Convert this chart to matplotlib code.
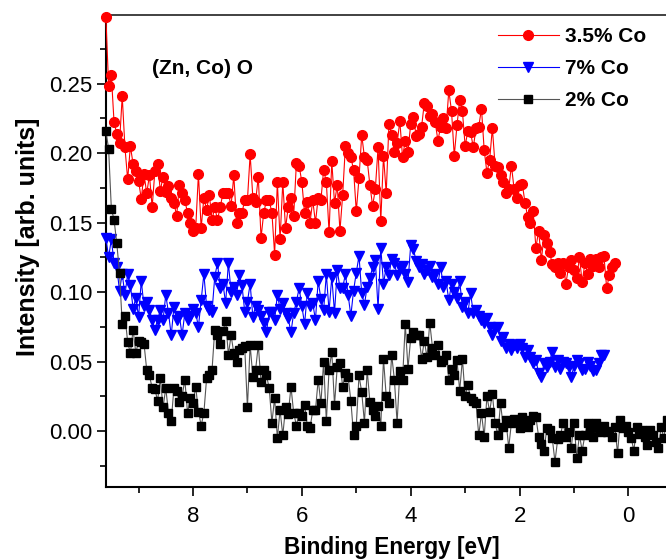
import numpy as np
import matplotlib
matplotlib.use("Agg")
import matplotlib.pyplot as plt
from matplotlib.ticker import MultipleLocator

plt.rcParams['font.family'] = ['Liberation Sans', 'DejaVu Sans']

# Binding-energy grid: spectra sampled every 0.05 eV starting at 9.60 eV
energy_start = 9.60
energy_step = 0.05

# 3.5% Co (red circles), 9.60 -> 0.25 eV
red_intensity = [
    0.298, 0.248, 0.256, 0.222, 0.214, 0.207, 0.241, 0.204, 0.181, 0.205,
    0.192, 0.187, 0.180, 0.167, 0.185, 0.171, 0.184, 0.161, 0.187, 0.192,
    0.173, 0.183, 0.172, 0.176, 0.168, 0.164, 0.155, 0.177, 0.171, 0.166,
    0.157, 0.150, 0.144, 0.146, 0.185, 0.146, 0.168, 0.159, 0.170, 0.152,
    0.161, 0.152, 0.161, 0.171, 0.171, 0.171, 0.162, 0.184, 0.150, 0.157,
    0.157, 0.166, 0.166, 0.199, 0.168, 0.165, 0.183, 0.139, 0.157, 0.166,
    0.166, 0.157, 0.127, 0.179, 0.138, 0.179, 0.146, 0.161, 0.168, 0.155,
    0.193, 0.191, 0.179, 0.157, 0.165, 0.150, 0.166, 0.150, 0.168, 0.166,
    0.188, 0.179, 0.143, 0.194, 0.164, 0.177, 0.144, 0.170, 0.205, 0.200,
    0.197, 0.188, 0.158, 0.182, 0.213, 0.197, 0.195, 0.177, 0.162, 0.174,
    0.204, 0.151, 0.198, 0.171, 0.221, 0.213, 0.201, 0.207, 0.223, 0.197,
    0.209, 0.201, 0.221, 0.226, 0.212, 0.214, 0.219, 0.236, 0.234, 0.227,
    0.228, 0.222, 0.209, 0.219, 0.225, 0.218, 0.245, 0.230, 0.198, 0.220,
    0.238, 0.230, 0.205, 0.216, 0.215, 0.204, 0.218, 0.219, 0.232, 0.202,
    0.186, 0.195, 0.218, 0.191, 0.190, 0.184, 0.179, 0.171, 0.174, 0.191,
    0.174, 0.168, 0.177, 0.178, 0.164, 0.154, 0.150, 0.158, 0.132, 0.144,
    0.123, 0.141, 0.135, 0.129, 0.120, 0.118, 0.121, 0.114, 0.121, 0.106,
    0.118, 0.123, 0.116, 0.110, 0.125, 0.107, 0.121, 0.113, 0.124, 0.119,
    0.124, 0.118, 0.125, 0.126, 0.103, 0.112, 0.118, 0.121,
]

# 7% Co (blue down-triangles), 9.60 -> 0.45 eV
blue_intensity = [
    0.139, 0.125, 0.138, 0.121, 0.118, 0.101, 0.113, 0.098, 0.113, 0.105,
    0.088, 0.096, 0.082, 0.108, 0.090, 0.093, 0.087, 0.080, 0.073, 0.080,
    0.087, 0.080, 0.098, 0.085, 0.069, 0.089, 0.080, 0.083, 0.069, 0.085,
    0.080, 0.083, 0.088, 0.085, 0.075, 0.094, 0.113, 0.090, 0.087, 0.086,
    0.111, 0.121, 0.103, 0.106, 0.092, 0.121, 0.100, 0.104, 0.098, 0.112,
    0.105, 0.086, 0.093, 0.106, 0.082, 0.090, 0.087, 0.083, 0.078, 0.071,
    0.086, 0.086, 0.080, 0.098, 0.088, 0.092, 0.085, 0.081, 0.071, 0.085,
    0.093, 0.103, 0.090, 0.077, 0.099, 0.090, 0.092, 0.080, 0.108, 0.095,
    0.087, 0.113, 0.086, 0.111, 0.085, 0.116, 0.103, 0.103, 0.113, 0.098,
    0.083, 0.101, 0.114, 0.126, 0.099, 0.091, 0.104, 0.110, 0.118, 0.123,
    0.088, 0.132, 0.106, 0.118, 0.112, 0.124, 0.121, 0.112, 0.117, 0.119,
    0.113, 0.107, 0.134, 0.131, 0.122, 0.118, 0.120, 0.113, 0.116, 0.119,
    0.111, 0.113, 0.106, 0.118, 0.104, 0.108, 0.094, 0.106, 0.100, 0.096,
    0.108, 0.089, 0.093, 0.085, 0.099, 0.085, 0.087, 0.083, 0.080, 0.078,
    0.081, 0.075, 0.069, 0.074, 0.075, 0.065, 0.068, 0.060, 0.063, 0.058,
    0.062, 0.060, 0.063, 0.060, 0.053, 0.058, 0.053, 0.049, 0.051, 0.042,
    0.039, 0.049, 0.046, 0.050, 0.057, 0.046, 0.051, 0.045, 0.050, 0.049,
    0.046, 0.039, 0.047, 0.051, 0.049, 0.044, 0.045, 0.050, 0.047, 0.043,
    0.044, 0.049, 0.055, 0.055,
]

# 2% Co (black squares), 9.60 -> -0.70 eV
black_intensity = [
    0.216, 0.203, 0.160, 0.152, 0.135, 0.114, 0.077, 0.083, 0.064, 0.056,
    0.073, 0.056, 0.065, 0.064, 0.063, 0.044, 0.040, 0.031, 0.030, 0.022,
    0.038, 0.017, 0.031, 0.013, 0.007, 0.031, 0.029, 0.021, 0.025, 0.037,
    0.013, 0.024, 0.020, 0.032, 0.014, 0.004, 0.013, 0.038, 0.040, 0.044,
    0.073, 0.069, 0.063, 0.072, 0.079, 0.055, 0.069, 0.056, 0.050, 0.058,
    0.060, 0.061, 0.017, 0.062, 0.039, 0.044, 0.062, 0.035, 0.044, 0.040,
    0.031, 0.006, 0.024, -0.005, 0.015, -0.003, 0.017, 0.012, 0.032, 0.013,
    0.004, 0.013, 0.011, 0.019, 0.004, 0.002, 0.015, 0.015, 0.037, 0.020,
    0.050, 0.007, 0.044, 0.057, 0.019, 0.046, 0.049, 0.032, 0.042, 0.039,
    0.022, -0.003, 0.004, 0.040, 0.028, 0.006, 0.044, 0.021, 0.015, 0.011,
    0.018, 0.004, 0.052, 0.025, 0.020, 0.055, 0.037, 0.006, 0.043, 0.037,
    0.077, 0.045, 0.067, 0.071, 0.069, 0.069, 0.052, 0.065, 0.053, 0.078,
    0.060, 0.055, 0.062, 0.050, 0.051, 0.055, 0.037, 0.045, 0.040, 0.051,
    0.029, 0.052, 0.025, 0.033, 0.024, 0.022, 0.020, -0.003, 0.013, -0.004,
    0.025, 0.014, 0.027, 0.006, -0.003, 0.020, 0.003, 0.008, -0.012, 0.006,
    0.009, 0.007, 0.002, 0.010, 0.007, 0.003, 0.008, 0.011, 0.010, -0.004,
    -0.009, -0.014, 0.002, 0.001, -0.005, -0.022, -0.006, -0.003, 0.006, -0.004,
    -0.001, -0.012, 0.006, -0.019, -0.003, -0.014, -0.003, 0.006, 0.002, -0.004,
    0.006, 0.002, -0.001, 0.004, -0.001, 0.000, -0.004, 0.003, -0.016, 0.008,
    0.002, 0.004, -0.001, -0.005, -0.014, 0.003, -0.002, 0.001, -0.004, -0.010,
    0.001, -0.003, -0.008, -0.012, 0.003, -0.005, 0.008,
]

series_labels = ["3.5% Co", "7% Co", "2% Co"]
sample_label = "(Zn, Co) O"
x_ticks = [8, 6, 4, 2, 0]
y_ticks = [0.00, 0.05, 0.10, 0.15, 0.20, 0.25]


def energies(n):
    return energy_start - energy_step * np.arange(n)


fig = plt.figure(figsize=(6.66, 5.59), dpi=100)
ax = fig.add_axes([0.159, 0.1293, 0.841, 0.8444])

ax.plot(energies(len(red_intensity)), red_intensity, '-', color='#ff0000', lw=0.8,
        marker='o', ms=7.0, mec='#ff0000', mfc='#ff0000', clip_on=False,
        label=series_labels[0], zorder=3)
ax.plot(energies(len(blue_intensity)), blue_intensity, '-', color='#0000ff', lw=0.8,
        marker='v', ms=7.6, mec='#0000ff', mfc='#0000ff', clip_on=False,
        label=series_labels[1], zorder=3)
ax.plot(energies(len(black_intensity)), black_intensity, '-', color='#555555', lw=0.8,
        marker='s', ms=5.8, mec='black', mfc='black', clip_on=False,
        label=series_labels[2], zorder=3)

ax.set_xlim(9.6, -0.69)
ax.set_ylim(-0.040, 0.2995)

ax.set_xticks(x_ticks)
ax.set_xticklabels([str(t) for t in x_ticks])
ax.xaxis.set_minor_locator(MultipleLocator(1))
ax.set_yticks(y_ticks)
ax.set_yticklabels([f"{t:.2f}" for t in y_ticks])
ax.yaxis.set_minor_locator(MultipleLocator(0.025))

ax.tick_params(axis='both', which='major', direction='out', length=6.5, width=1.2,
               labelsize=16)
ax.tick_params(axis='both', which='minor', direction='out', length=4, width=1.2)
ax.tick_params(axis='x', which='major', pad=7.5)
ax.tick_params(axis='y', which='major', pad=3.5)

for side in ['left', 'bottom']:
    ax.spines[side].set_linewidth(1.5)
    ax.spines[side].set_color('black')
ax.spines['top'].set_linewidth(1.3)
ax.spines['top'].set_color('#333333')
ax.spines['right'].set_visible(False)

ax.set_xlabel("Binding Energy [eV]", fontsize=16.3, fontweight='bold')
ax.set_ylabel("Intensity [arb. units]", fontsize=18, fontweight='bold')
ax.xaxis.set_label_coords(0.511, -0.104)
ax.yaxis.set_label_coords(-0.118, 0.529)

ax.text(0.082, 0.887, sample_label, transform=ax.transAxes, fontsize=15,
        fontweight='bold', ha='left', va='center')

leg = ax.legend(loc='upper left', bbox_to_anchor=(0.72, 0.985), bbox_transform=fig.transFigure,
                frameon=False, handlelength=2.9, handletextpad=0.3, labelspacing=0.62,
                prop={'weight': 'bold', 'size': 15})

fig.savefig("out.png", dpi=100)
